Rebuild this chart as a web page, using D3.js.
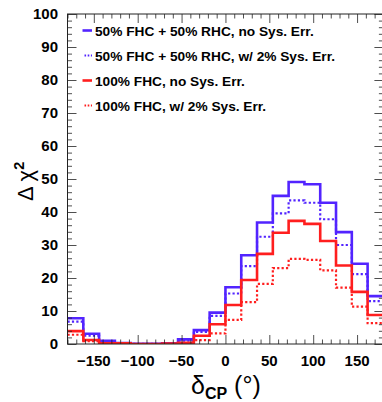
<!DOCTYPE html>
<html>
<head>
<meta charset="utf-8">
<script src="https://cdn.jsdelivr.net/npm/d3@7/dist/d3.min.js"></script>
<style>
  html, body { margin: 0; padding: 0; background: #fff; }
  svg { display: block; }
  text { font-family: "Liberation Sans", Arial, Helvetica, sans-serif; }
</style>
</head>
<body>
<svg id="chart" width="382" height="402"></svg>
<script>
// Bin edges of δCP (degrees), 20 bins of 18°
const binEdges = [-180, -162, -144, -126, -108, -90, -72, -54, -36, -18, 0,
                  18, 36, 54, 72, 90, 108, 126, 144, 162, 180];

// Δχ² per bin
const fhcRhcNoSys = [7.8, 3.1, 1.0, 0.3, 0.05, 0.05, 0.2, 1.4, 4.2, 9.5,
                     17.2, 26.9, 36.8, 44.9, 49.1, 48.4, 42.8, 33.9, 24.3, 14.5];
const fhcRhcSys2 = [6.8, 2.5, 0.8, 0.2, 0.05, 0.05, 0.2, 1.0, 3.7, 8.5,
                    15.3, 23.6, 32.5, 39.6, 43.5, 42.8, 37.8, 30.0, 21.2, 13.0];
const fhcNoSys = [3.9, 1.2, 0.2, 0.2, 0.0, 0.0, 0.1, 0.4, 2.5, 6.0,
                  11.8, 19.4, 27.3, 33.7, 37.3, 36.4, 31.2, 23.8, 15.8, 8.8];
const fhcSys2 = [2.8, 0.9, 0.1, 0.1, 0.0, 0.0, 0.05, 0.2, 1.2, 3.2,
                 7.3, 12.7, 18.2, 23.0, 25.8, 25.5, 22.3, 17.1, 11.3, 6.3];

const legendLabels = [
  "50% FHC + 50% RHC, no Sys. Err.",
  "50% FHC + 50% RHC, w/ 2% Sys. Err.",
  "100% FHC, no Sys. Err.",
  "100% FHC, w/ 2% Sys. Err."
];

const xTicks = [-150, -100, -50, 0, 50, 100, 150];
const yTicks = [0, 10, 20, 30, 40, 50, 60, 70, 80, 90, 100];

const blue = "#5224ff", red = "#ff1e1e";
const seriesList = [
  { values: fhcRhcNoSys, color: blue, dash: null, label: legendLabels[0] },
  { values: fhcRhcSys2, color: blue, dash: "2.2,2.2", label: legendLabels[1] },
  { values: fhcNoSys, color: red, dash: null, label: legendLabels[2] },
  { values: fhcSys2, color: red, dash: "2.2,2.2", label: legendLabels[3] }
];

const svg = d3.select("#chart");
const frame = { left: 67.5, top: 14, right: 383.4, bottom: 344 };

const x = d3.scaleLinear().domain([-180, 180]).range([frame.left, frame.right]);
const y = d3.scaleLinear().domain([0, 100]).range([frame.bottom, frame.top]);

svg.append("defs").append("clipPath").attr("id", "plotClip")
  .append("rect")
  .attr("x", frame.left).attr("y", frame.top - 2)
  .attr("width", frame.right - frame.left).attr("height", frame.bottom - frame.top + 2);

// Histograms as step outlines
const step = d3.line()
  .x(d => x(d[0]))
  .y(d => y(d[1]))
  .curve(d3.curveStepAfter);

const plot = svg.append("g").attr("clip-path", "url(#plotClip)");
// draw dotted first, then solid lines on top
[1, 3, 0, 2].forEach(i => {
  const s = seriesList[i];
  const pts = s.values.map((v, k) => [binEdges[k], v]);
  pts.push([binEdges[binEdges.length - 1], s.values[s.values.length - 1]]);
  plot.append("path")
    .attr("d", step(pts))
    .attr("fill", "none")
    .attr("stroke", s.color)
    .attr("stroke-width", s.dash ? 2.2 : 2.6)
    .attr("stroke-dasharray", s.dash)
    .attr("stroke-linejoin", "miter");
});

// Frame and ticks (ticks pointing inwards on all four sides)
const axisColor = "#222";
const majorLen = 9, minorLen = 4.5;

function addAxis(gen, transform) {
  const g = svg.append("g").attr("transform", transform).call(gen);
  g.select(".domain").remove();
  g.selectAll("line").attr("stroke", axisColor).attr("stroke-width", 0.8);
  return g;
}

const xMinor = d3.range(-180, 181, 10).filter(v => v % 50 !== 0);
const yMinor = d3.range(0, 101, 2).filter(v => v % 10 !== 0);

// bottom
addAxis(d3.axisTop(x).tickValues(xTicks).tickSize(majorLen).tickFormat(""),
  `translate(0,${frame.bottom})`);
addAxis(d3.axisTop(x).tickValues(xMinor).tickSize(minorLen).tickFormat(""),
  `translate(0,${frame.bottom})`);
// top
addAxis(d3.axisBottom(x).tickValues(xTicks).tickSize(majorLen).tickFormat(""),
  `translate(0,${frame.top})`);
addAxis(d3.axisBottom(x).tickValues(xMinor).tickSize(minorLen).tickFormat(""),
  `translate(0,${frame.top})`);
// left
addAxis(d3.axisRight(y).tickValues(yTicks).tickSize(majorLen).tickFormat(""),
  `translate(${frame.left},0)`);
addAxis(d3.axisRight(y).tickValues(yMinor).tickSize(minorLen).tickFormat(""),
  `translate(${frame.left},0)`);
// right
addAxis(d3.axisLeft(y).tickValues(yTicks).tickSize(majorLen).tickFormat(""),
  `translate(${frame.right},0)`);
addAxis(d3.axisLeft(y).tickValues(yMinor).tickSize(minorLen).tickFormat(""),
  `translate(${frame.right},0)`);

svg.append("rect")
  .attr("x", frame.left).attr("y", frame.top)
  .attr("width", frame.right - frame.left).attr("height", frame.bottom - frame.top)
  .attr("fill", "none").attr("stroke", axisColor).attr("stroke-width", 1);

// Tick labels
svg.append("g").selectAll("text").data(yTicks).join("text")
  .attr("x", frame.left - 9.5)
  .attr("y", d => y(d) + 5.4)
  .attr("text-anchor", "end")
  .attr("font-size", 15)
  .attr("font-weight", "bold")
  .attr("fill", "#000")
  .text(d => d);

svg.append("g").selectAll("text").data(xTicks).join("text")
  .attr("x", d => x(d))
  .attr("y", 366)
  .attr("text-anchor", "middle")
  .attr("font-size", 15)
  .attr("font-weight", "bold")
  .attr("fill", "#000")
  .text(d => d < 0 ? "\u2212" + Math.abs(d) : d);

// Axis titles
const yTitle = svg.append("text")
  .attr("transform", "translate(33,201) rotate(-90)")
  .attr("font-size", 22)
  .attr("fill", "#000");
yTitle.append("tspan").text("\u0394 \u03c7");
yTitle.append("tspan").attr("font-size", 14.5).attr("font-weight", "bold")
  .attr("dy", -9.5).text("2");

const xTitle = svg.append("text")
  .attr("x", 191).attr("y", 394)
  .attr("font-size", 25)
  .attr("fill", "#000");
xTitle.append("tspan").text("\u03b4");
xTitle.append("tspan").attr("font-size", 16).attr("font-weight", "bold")
  .attr("dy", 5).text("CP");
xTitle.append("tspan").attr("dy", -5).text(" (\u00b0)");

// Legend
const legend = svg.append("g");
seriesList.forEach((s, i) => {
  const cy = 30.5 + i * 25;
  legend.append("line")
    .attr("x1", s.dash ? 84.5 : 82.5).attr("x2", 92)
    .attr("y1", cy).attr("y2", cy)
    .attr("stroke", s.color)
    .attr("stroke-width", s.dash ? 2 : 2.6)
    .attr("stroke-dasharray", s.dash ? "1.6,1.6" : null);
  legend.append("text")
    .attr("x", 95).attr("y", cy + 5.2)
    .attr("font-size", 13.7)
    .attr("font-weight", "bold")
    .attr("fill", "#000")
    .text(s.label);
});
</script>
</body>
</html>
